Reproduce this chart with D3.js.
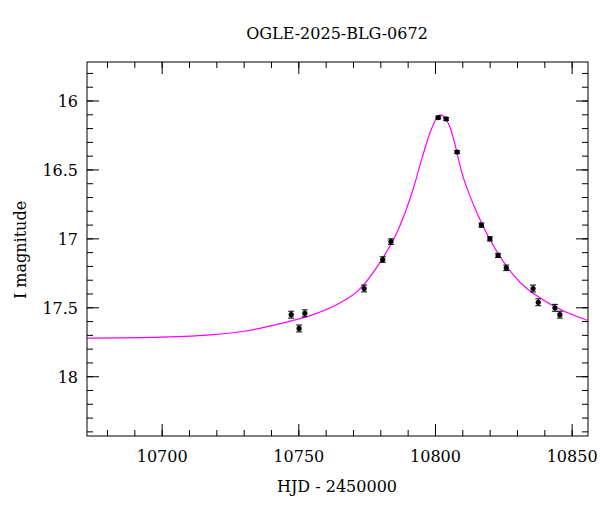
<!DOCTYPE html>
<html><head><meta charset="utf-8">
<script src="https://cdn.jsdelivr.net/npm/d3@7"></script>
<style>body{margin:0;background:#fff}text{font-family:"DejaVu Serif","Liberation Serif",serif}</style>
</head><body><svg id="c" width="600" height="512"></svg>
<script>
// observed points
const obsHjd = [10747.2,10750.1,10752.2,10773.9,10780.7,10783.7,10801.0,10803.9,10807.9,10816.8,10819.9,10822.9,10825.9,10835.7,10837.6,10843.7,10845.5];
const obsMag = [17.55,17.65,17.54,17.36,17.15,17.02,16.12,16.13,16.37,16.90,17.00,17.12,17.21,17.36,17.46,17.50,17.55];
const obsErr = [0.025,0.025,0.025,0.025,0.02,0.02,0.01,0.01,0.01,0.015,0.015,0.015,0.02,0.025,0.025,0.025,0.025];
// model curve samples
const modelHjd = [10672.5,10700,10718.7,10730,10743.2,10755.2,10765,10772,10779.7,10786,10791.8,10795,10798.0,10800.5,10801.7,10803.5,10805.3,10810.1,10816.3,10828.4,10840.8,10855.5];
const modelMag = [17.72,17.713,17.695,17.67,17.615,17.55,17.465,17.37,17.17,16.95,16.64,16.42,16.23,16.12,16.10,16.12,16.19,16.55,16.86,17.26,17.46,17.59];
const xTicks = [10700,10750,10800,10850];
const yTicks = [16,16.5,17,17.5,18];

const svg = d3.select("#c");
const L=87,R=588,T=62,B=436;
const x = d3.scaleLinear().domain([10672.5,10855.8]).range([L,R]);
const y = d3.scaleLinear().domain([15.717,18.43]).range([T,B]);

const g = svg.append("g");
function ticks(vals, len){
  vals.forEach(v=>{
    const px=x(v);
    if(px<L||px>R) return;
    g.append("line").attr("x1",px).attr("x2",px).attr("y1",B).attr("y2",B-len).attr("stroke","#000");
    g.append("line").attr("x1",px).attr("x2",px).attr("y1",T).attr("y2",T+len).attr("stroke","#000");
  });
}
function yticks(vals,len){
  vals.forEach(v=>{
    const py=y(v);
    if(py<T||py>B) return;
    g.append("line").attr("y1",py).attr("y2",py).attr("x1",L).attr("x2",L+len).attr("stroke","#000");
    g.append("line").attr("y1",py).attr("y2",py).attr("x1",R).attr("x2",R-len).attr("stroke","#000");
  });
}
ticks(d3.range(10680,10860,10),6);
ticks(xTicks,12);
yticks(d3.range(15.8,18.45,0.1),6);
yticks(yTicks,12);

const line = d3.line().x((d,i)=>x(modelHjd[i])).y(d=>y(d)).curve(d3.curveMonotoneX);
svg.append("path").attr("d",line(modelMag)).attr("fill","none").attr("stroke","#ff00ff").attr("stroke-width",1.2);

obsHjd.forEach((h,i)=>{
  const px=x(h), m=obsMag[i], e=obsErr[i];
  svg.append("line").attr("x1",px).attr("x2",px).attr("y1",y(m-e)).attr("y2",y(m+e)).attr("stroke","#000");
  [m-e,m+e].forEach(v=>svg.append("line").attr("x1",px-3).attr("x2",px+3).attr("y1",y(v)).attr("y2",y(v)).attr("stroke","#000"));
  svg.append("circle").attr("cx",px).attr("cy",y(m)).attr("r",2.6).attr("fill","#000");
});

svg.append("rect").attr("x",L).attr("y",T).attr("width",R-L).attr("height",B-T).attr("fill","none").attr("stroke","#000");

xTicks.forEach(v=>svg.append("text").attr("x",x(v)).attr("y",462).attr("text-anchor","middle").attr("font-size",16).text(v));
yTicks.forEach(v=>svg.append("text").attr("x",78).attr("y",y(v)+6).attr("text-anchor","end").attr("font-size",16).text(v));
svg.append("text").attr("x",337).attr("y",39).attr("text-anchor","middle").attr("font-size",16).text("OGLE-2025-BLG-0672");
svg.append("text").attr("x",337).attr("y",492).attr("text-anchor","middle").attr("font-size",16).text("HJD - 2450000");
svg.append("text").attr("transform","translate(26,250) rotate(-90)").attr("text-anchor","middle").attr("font-size",16).text("I magnitude");
</script></body></html>
